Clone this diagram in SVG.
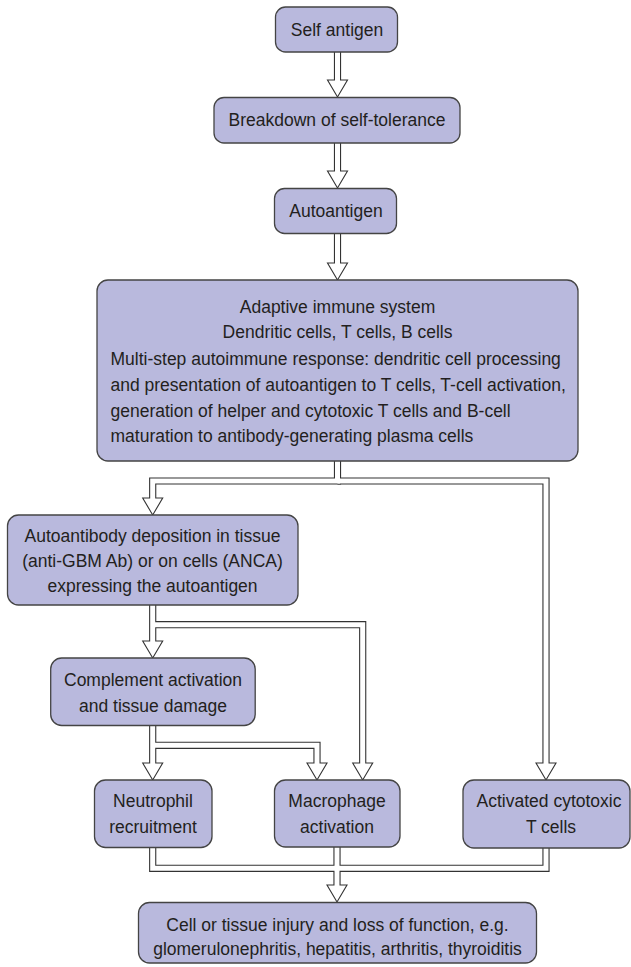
<svg xmlns="http://www.w3.org/2000/svg" width="631" height="967" viewBox="0 0 631 967">
<style>
.box{fill:#b9b9dd;stroke:#444;stroke-width:1.3}
.t{font-family:"Liberation Sans",Arial,sans-serif;font-size:17.5px;fill:#231f20}
.c{text-anchor:middle}
.od{fill:none;stroke:#333;stroke-width:7.2;stroke-linejoin:miter}
.iw{fill:none;stroke:#fff;stroke-width:5}
.hd{fill:#fff;stroke:#333;stroke-width:1.1;stroke-linejoin:miter}
</style>
<rect width="631" height="967" fill="#fff"/>
<g id="connectors">
<g id="outer">
<path class="od" d="M337.5,52V80"/>
<path class="od" d="M337.5,143V171"/>
<path class="od" d="M337.5,233V263"/>
<path class="od" d="M337.5,461V481H152.7V498"/>
<path class="od" d="M337.5,481H546V763"/>
<path class="od" d="M152.7,605V641"/>
<path class="od" d="M152.7,624.7H362.7V763"/>
<path class="od" d="M152.7,725V763"/>
<path class="od" d="M152.7,745.3H317V763"/>
<path class="od" d="M152.7,847V868.3H546V848"/>
<path class="od" d="M337,847V885"/>
</g>
<g id="heads">
<polygon class="hd" points="327.5,80 347.5,80 337.5,97"/>
<polygon class="hd" points="327.5,171 347.5,171 337.5,188"/>
<polygon class="hd" points="327.5,263 347.5,263 337.5,280"/>
<polygon class="hd" points="142.7,498 162.7,498 152.7,515"/>
<polygon class="hd" points="536,763 556,763 546,780"/>
<polygon class="hd" points="142.7,641 162.7,641 152.7,658"/>
<polygon class="hd" points="352.7,763 372.7,763 362.7,780"/>
<polygon class="hd" points="142.7,763 162.7,763 152.7,780"/>
<polygon class="hd" points="307,763 327,763 317,780"/>
<polygon class="hd" points="327,885 347,885 337,902"/>
</g>
<g id="inner">
<path class="iw" d="M337.5,52V81"/>
<path class="iw" d="M337.5,143V172"/>
<path class="iw" d="M337.5,233V264"/>
<path class="iw" d="M337.5,461V481H152.7V499"/>
<path class="iw" d="M337.5,481H546V764"/>
<path class="iw" d="M152.7,605V642"/>
<path class="iw" d="M152.7,624.7H362.7V764"/>
<path class="iw" d="M152.7,725V764"/>
<path class="iw" d="M152.7,745.3H317V764"/>
<path class="iw" d="M152.7,847V868.3H546V848"/>
<path class="iw" d="M337,847V886"/>
</g>
</g>
<g id="self-antigen">
<rect class="box" x="275.5" y="7" width="122" height="45" rx="10"/>
<text class="t c" x="337" y="36">Self antigen</text>
</g>
<g id="breakdown">
<rect class="box" x="214" y="97.5" width="246" height="45.5" rx="10"/>
<text class="t c" x="337" y="126">Breakdown of self-tolerance</text>
</g>
<g id="autoantigen">
<rect class="box" x="274.5" y="188.5" width="122" height="45" rx="10"/>
<text class="t c" x="336" y="217">Autoantigen</text>
</g>
<g id="adaptive">
<rect class="box" x="97" y="280" width="481" height="181" rx="11"/>
<text class="t c" x="337.5" y="312.5">Adaptive immune system</text>
<text class="t c" x="337.5" y="337.5">Dendritic cells, T cells, B cells</text>
<text class="t" x="110.5" y="364.5">Multi-step autoimmune response: dendritic cell processing</text>
<text class="t" x="110.5" y="390.5">and presentation of autoantigen to T cells, T-cell activation,</text>
<text class="t" x="110.5" y="416.5">generation of helper and cytotoxic T cells and B-cell</text>
<text class="t" x="110.5" y="441.5">maturation to antibody-generating plasma cells</text>
</g>
<g id="autoantibody">
<rect class="box" x="7.5" y="515" width="290.5" height="90" rx="11"/>
<text class="t c" x="152.5" y="541.5">Autoantibody deposition in tissue</text>
<text class="t c" x="152.5" y="566.5">(anti-GBM Ab) or on cells (ANCA)</text>
<text class="t c" x="152.5" y="591.5">expressing the autoantigen</text>
</g>
<g id="complement">
<rect class="box" x="50.7" y="658" width="204.5" height="67.5" rx="11"/>
<text class="t c" x="153" y="686">Complement activation</text>
<text class="t c" x="153" y="711.5">and tissue damage</text>
</g>
<g id="neutrophil">
<rect class="box" x="94.5" y="780" width="117.5" height="67.5" rx="11"/>
<text class="t c" x="153" y="807">Neutrophil</text>
<text class="t c" x="153" y="832.5">recruitment</text>
</g>
<g id="macrophage">
<rect class="box" x="274.5" y="780" width="125.5" height="67" rx="11"/>
<text class="t c" x="337" y="807">Macrophage</text>
<text class="t c" x="337" y="832.5">activation</text>
</g>
<g id="cytotoxic">
<rect class="box" x="463" y="780" width="167" height="68" rx="11"/>
<text class="t c" x="549" y="807">Activated cytotoxic</text>
<text class="t c" x="551" y="832.5">T cells</text>
</g>
<g id="injury">
<rect class="box" x="138.5" y="902.5" width="398" height="60.5" rx="11"/>
<text class="t c" x="337.5" y="930.5">Cell or tissue injury and loss of function, e.g.</text>
<text class="t c" x="337.5" y="955">glomerulonephritis, hepatitis, arthritis, thyroiditis</text>
</g>
</svg>
